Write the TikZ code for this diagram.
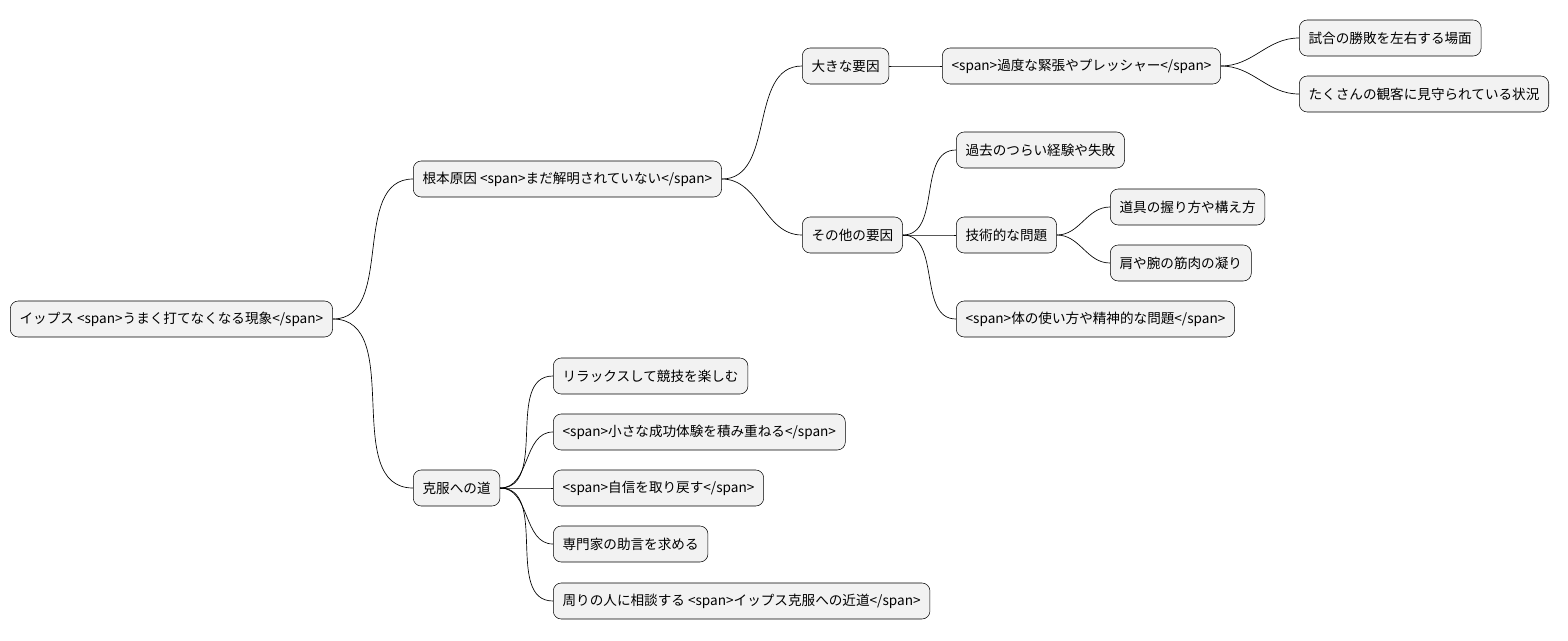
\documentclass[tikz,border=0pt]{standalone}
\usepackage{fontspec}
\setmainfont{Noto Sans CJK JP}
\usetikzlibrary{calc}

\begin{document}
\begin{tikzpicture}[
        x = 0.75pt, y = -0.75pt,
        topic/.style = {draw=black, fill=black!5, rounded corners=6pt, anchor=west,
                        minimum height=27pt, inner xsep=7pt,
                        font=\fontsize{10.2}{12}\selectfont},
        link/.style = {draw=black, line width=0.5pt},
		]

        \useasboundingbox (0,0) rectangle (1568,640);

        % Root
        \node[topic] (root) at (10,319) {イップス <span>うまく打てなくなる現象</span>};

        % First level
        \node[topic] (cause) at (413,179) {根本原因 <span>まだ解明されていない</span>};
        \node[topic] (overcome) at (413,488) {克服への道};

        % Causes
        \node[topic] (major) at (802,66) {大きな要因};
        \node[topic] (other) at (802,235) {その他の要因};
        \node[topic] (tension) at (942,66) {<span>過度な緊張やプレッシャー</span>};
        \node[topic] (match) at (1299,38) {試合の勝敗を左右する場面};
        \node[topic] (crowd) at (1299,94) {たくさんの観客に見守られている状況};
        \node[topic] (past) at (956,150) {過去のつらい経験や失敗};
        \node[topic] (tech) at (956,235) {技術的な問題};
        \node[topic] (body) at (956,319) {<span>体の使い方や精神的な問題</span>};
        \node[topic] (grip) at (1110,207) {道具の握り方や構え方};
        \node[topic] (stiff) at (1110,263) {肩や腕の筋肉の凝り};

        % Ways to overcome
        \node[topic] (relax) at (553,376) {リラックスして競技を楽しむ};
        \node[topic] (small) at (553,432) {<span>小さな成功体験を積み重ねる</span>};
        \node[topic] (conf) at (553,488) {<span>自信を取り戻す</span>};
        \node[topic] (expert) at (553,544) {専門家の助言を求める};
        \node[topic] (talk) at (553,601) {周りの人に相談する <span>イップス克服への近道</span>};

        % Links
        \foreach \a/\b in {root/cause, root/overcome, cause/major, cause/other,
                major/tension, tension/match, tension/crowd, other/past, other/tech,
                other/body, tech/grip, tech/stiff, overcome/relax, overcome/small,
                overcome/conf, overcome/expert, overcome/talk}
            \draw[link] (\a.east) to[out=0,in=180] (\b.west);
    \end{tikzpicture}
\end{document}
